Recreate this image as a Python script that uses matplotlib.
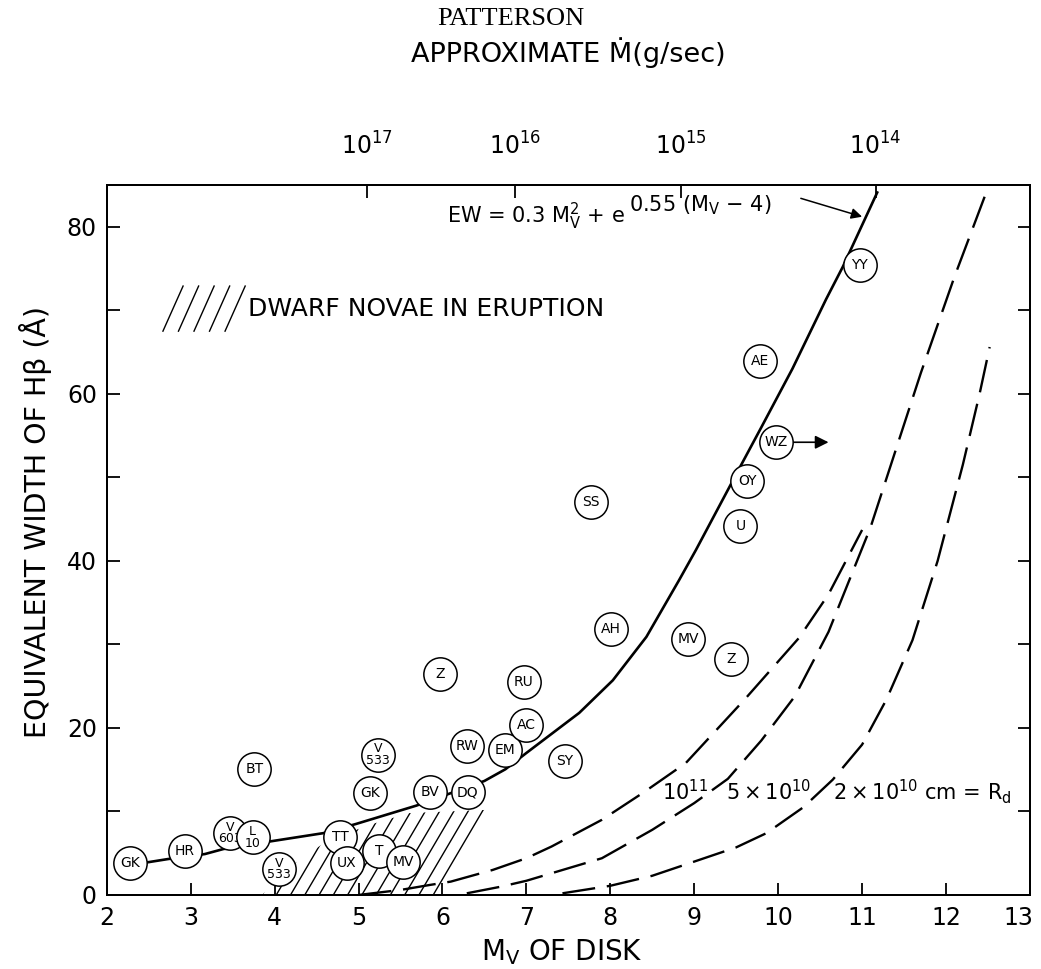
import matplotlib.pyplot as plt
import matplotlib.transforms as mtransforms
import numpy as np
from matplotlib.patches import Polygon
from matplotlib.collections import LineCollection

plt.rcParams['font.family'] = 'DejaVu Sans'
plt.rcParams['mathtext.default'] = 'regular'

# systems: disk absolute magnitude and H-beta equivalent width
star_names = ["GK", "HR", "V\n603", "L\n10", "V\n533", "BT", "TT", "UX", "T", "MV",
              "GK", "V\n533", "BV", "DQ", "Z", "RW", "EM", "AC", "RU", "SY",
              "AH", "SS", "MV", "Z", "U", "OY", "WZ", "AE", "YY"]
star_mv = [2.28, 2.93, 3.47, 3.74, 4.05, 3.76, 4.78, 4.86, 5.25, 5.53,
           5.14, 5.23, 5.85, 6.30, 5.97, 6.29, 6.75, 7.00, 6.97, 7.46,
           8.01, 7.77, 8.93, 9.44, 9.55, 9.63, 9.98, 9.78, 10.97]
star_ew = [3.8, 5.3, 7.4, 6.9, 3.1, 15.1, 6.9, 3.8, 5.3, 3.9,
           12.2, 16.8, 12.3, 12.3, 26.5, 17.8, 17.3, 20.4, 25.5, 16.0,
           31.8, 47.0, 30.7, 28.3, 44.2, 49.6, 54.2, 63.9, 75.4]

# empirical relation
fit_mv = [2.3, 2.48, 2.73, 3.17, 3.39, 3.94, 4.58, 4.97, 5.69, 6.5, 6.75, 7.0,
          7.63, 8.03, 8.43, 8.82, 9.02, 9.56, 9.8, 10.17, 10.57, 10.77, 11.18]
fit_ew = [3.7, 3.9, 4.3, 4.9, 5.5, 6.4, 7.4, 8.5, 10.7, 13.65, 15.05, 17.0,
          21.8, 25.7, 30.9, 37.7, 41.3, 51.5, 56.0, 63.0, 71.3, 75.2, 84.1]

# model curves for disk radius R_d
r11_mv = [5.0, 5.5, 5.85, 6.1, 6.6, 7.0, 7.3, 7.9, 8.4, 8.9, 9.6, 10.25, 10.6, 11.0]
r11_ew = [0.0, 0.6, 1.2, 1.6, 3.0, 4.4, 5.8, 9.0, 12.3, 15.8, 23.4, 30.8, 36.0, 43.7]
r5e10_mv = [6.29, 6.7, 7.0, 7.3, 7.9, 8.5, 9.0, 9.4, 9.8, 10.2, 10.6, 11.1, 11.7, 12.1, 12.55]
r5e10_ew = [0.2, 1.0, 1.7, 2.6, 4.4, 7.8, 11.0, 13.9, 18.5, 23.8, 31.5, 44.0, 62.5, 74.0, 86.0]
r2e10_mv = [7.43, 8.0, 8.5, 9.06, 9.5, 9.86, 10.3, 10.65, 11.0, 11.29, 11.6, 11.9, 12.2, 12.4, 12.52]
r2e10_ew = [0.2, 1.1, 2.3, 4.2, 5.7, 7.4, 10.5, 13.8, 18.0, 23.4, 30.5, 40.0, 51.5, 60.0, 65.6]

# dwarf novae in eruption (hatched zone)
erupt_mv = [3.85, 4.2, 4.6, 5.1, 5.6, 6.55, 5.97]
erupt_ew = [0.0, 3.5, 6.3, 8.3, 9.8, 10.2, 0.0]

# approximate accretion rate (g/sec) along the top
mdot_mv = [5.10, 6.86, 8.84, 11.16]
mdot_labels = [r'$10^{17}$', r'$10^{16}$', r'$10^{15}$', r'$10^{14}$']

fig = plt.figure(figsize=(10.41, 9.69), dpi=100)
ax = fig.add_axes([0.1025, 0.0764, 0.8869, 0.7327])
ax.set_xlim(2, 13)
ax.set_ylim(0, 85)

# hatching for the eruption zone, clipped to its outline
zone = Polygon(np.column_stack([erupt_mv, erupt_ew]), closed=True,
               fill=False, edgecolor='none')
ax.add_patch(zone)
slope = 17.1
starts = np.arange(3.85 - 0.17 * 4, 6.8, 0.17)
segs = [[(x0, 0), (x0 + 12 / slope, 12)] for x0 in starts]
lc = LineCollection(segs, colors='k', linewidths=1.0, zorder=1)
ax.add_collection(lc)
lc.set_clip_path(zone)

ax.plot(fit_mv, fit_ew, color='k', lw=1.9, zorder=2)
for mv, ew in [(r11_mv, r11_ew), (r5e10_mv, r5e10_ew), (r2e10_mv, r2e10_ew)]:
    ax.plot(mv, ew, color='k', lw=1.7, dashes=(14, 5), zorder=2)

for i, (name, mv, ew) in enumerate(zip(star_names, star_mv, star_ew)):
    z = 3 + i * 0.01
    ax.plot(mv, ew, 'o', ms=24, mfc='white', mec='k', mew=1.1, zorder=z)
    two = '\n' in name
    ax.text(mv, ew, name, ha='center', va='center', fontsize=9 if two else 10,
            linespacing=0.85, zorder=z + 0.005)

# WZ is a limit
ax.annotate('', xy=(10.6, 54.2), xytext=(10.18, 54.2),
            arrowprops=dict(arrowstyle='-|>', color='k', lw=1.2,
                            mutation_scale=20, shrinkA=0, shrinkB=0))

# the relation written out, exponent set as its own raised text
eq = ax.text(6.06, 80.4, r'EW = 0.3 M$_V^2$ + e', fontsize=15, va='baseline')
ax.annotate('0.55 (M$_V$ − 4)', xy=(1, 0), xycoords=eq, xytext=(3, 15),
            textcoords='offset points', fontsize=15, va='baseline')
ax.annotate('', xy=(11.0, 81.2), xytext=(10.27, 83.4),
            arrowprops=dict(arrowstyle='-|>', color='k', lw=1.1,
                            mutation_scale=16, shrinkA=0, shrinkB=0))

ax.text(8.62, 11.4, r'$10^{11}$', fontsize=15, va='baseline')
ax.text(9.38, 11.4, r'$5\times10^{10}$', fontsize=15, va='baseline')
ax.text(10.65, 11.4, r'$2\times10^{10}$ cm = R$_d$', fontsize=15, va='baseline')

# legend key for the hatching
key_x, key_y = 2.67, 67.5
for k in range(5):
    ax.plot([key_x + k * 0.185, key_x + 0.24 + k * 0.185], [key_y, key_y + 5.4],
            color='k', lw=1.0)
ax.text(3.68, 70.1, 'DWARF NOVAE IN ERUPTION', fontsize=18, va='center')

ax.set_xticks(range(2, 14))
ax.set_yticks(range(0, 81, 20))
ax.set_yticks(range(10, 80, 20), minor=True)
ax.tick_params(axis='x', direction='in', length=9, width=1.3, labelsize=17, pad=8)
ax.tick_params(axis='y', which='both', direction='in', length=9, width=1.3,
               right=True, labelsize=17, pad=7)
for s in ax.spines.values():
    s.set_linewidth(1.4)

top = ax.twiny()
top.set_xlim(ax.get_xlim())
top.set_xticks(mdot_mv)
top.set_xticklabels(mdot_labels)
top.tick_params(axis='x', direction='in', length=9, width=1.3, labelsize=17, pad=18)
for s in top.spines.values():
    s.set_linewidth(1.4)

fig.text(0.491, 0.980, 'PATTERSON', family='Liberation Serif', fontsize=19,
         ha='center', va='center')
fig.text(0.546, 0.946, 'APPROXIMATE Ṁ(g/sec)', fontsize=19.5, ha='center', va='center')
fig.text(0.034, 0.4618, 'EQUIVALENT WIDTH OF Hβ (Å)', fontsize=20.5, rotation=90,
         ha='center', va='center')
fig.text(0.540, 0.0093, r'M$_V$ OF DISK', fontsize=20, ha='center', va='baseline')

# pull the last bottom label in a little so it stays on the page
fig.canvas.draw()
last = ax.xaxis.get_major_ticks()[-1].label1
last.set_transform(last.get_transform() +
                   mtransforms.ScaledTranslation(-8 / 72, 0, fig.dpi_scale_trans))

fig.savefig('out.png', dpi=100)
